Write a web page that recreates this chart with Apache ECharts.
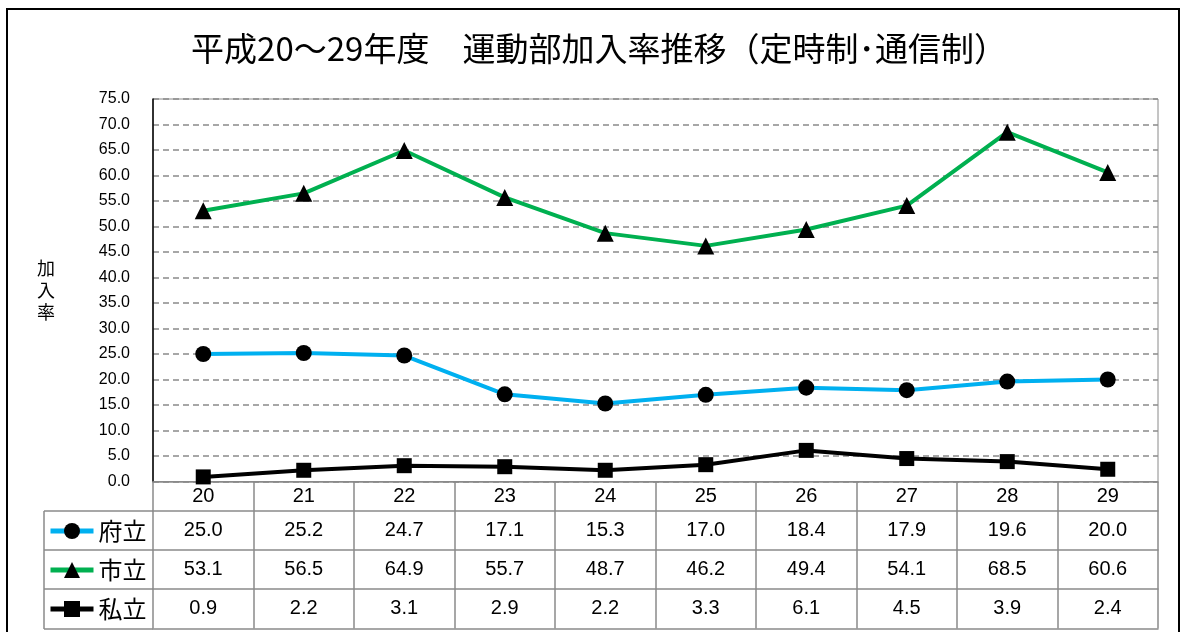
<!DOCTYPE html>
<html><head><meta charset="utf-8">
<script src="https://cdn.jsdelivr.net/npm/echarts@6/dist/echarts.min.js"></script>
<style>html,body{margin:0;padding:0;background:#fff}#c{width:1182px;height:632px}</style>
</head><body><div id="c"></div>
<script>
var titleText = '平成20～29年度　運動部加入率推移（定時制･通信制）';
var years = ['20','21','22','23','24','25','26','27','28','29'];
var seriesNames = ['府立','市立','私立'];
var fuRitsu = [25.0,25.2,24.7,17.1,15.3,17.0,18.4,17.9,19.6,20.0];
var shiRitsu = [53.1,56.5,64.9,55.7,48.7,46.2,49.4,54.1,68.5,60.6];
var shiRitsuPrivate = [0.9,2.2,3.1,2.9,2.2,3.3,6.1,4.5,3.9,2.4];
var yMin = 0, yMax = 75, yStep = 5;
var yName = '加入率';

var rows = [fuRitsu, shiRitsu, shiRitsuPrivate];
var gray = '#8a8a8a';
var numFont = 'Liberation Sans, Arial, sans-serif';
var jpFont = 'Noto Sans CJK JP, sans-serif';

var xAxes = [{
  type: 'category', data: years, position: 'bottom', offset: 0, boundaryGap: true,
  axisLine: {show: true, lineStyle: {color: gray, width: 1.5}},
  axisTick: {show: true, interval: 0, length: 147, lineStyle: {color: gray, width: 1.5}},
  axisLabel: {interval: 0, margin: 5, fontSize: 20, color: '#000', fontFamily: numFont}
}];
var offs = [29, 68, 107];
rows.forEach(function (arr, k) {
  xAxes.push({
    type: 'category', data: years, position: 'bottom', offset: offs[k], boundaryGap: true,
    axisLine: {show: true, lineStyle: {color: gray, width: 1.5}},
    axisTick: {show: false},
    axisLabel: {interval: 0, margin: 10, fontSize: 20, color: '#000', fontFamily: numFont,
      formatter: function (v, i) { return arr[i].toFixed(1); }}
  });
});
xAxes.push({
  type: 'category', data: years, position: 'bottom', offset: 147, boundaryGap: true,
  axisLine: {show: true, lineStyle: {color: gray, width: 1.5}},
  axisTick: {show: false}, axisLabel: {show: false}
});

var chart = echarts.init(document.getElementById('c'), null, {renderer: 'canvas'});
chart.setOption({
  animation: false,
  backgroundColor: '#fff',
  title: {text: titleText, left: 594, textAlign: 'center', top: 27,
    textStyle: {fontSize: 33, fontWeight: 'normal', color: '#000', fontFamily: jpFont}},
  grid: {left: 153, right: 24, top: 99, bottom: 150.5, show: true, borderColor: gray, borderWidth: 1},
  legend: {
    data: seriesNames, orient: 'vertical', left: 48, top: 519, padding: 0,
    itemWidth: 43, itemHeight: 20, itemGap: 15, selectedMode: false,
    lineStyle: {width: 5},
    textStyle: {fontSize: 24, lineHeight: 24, color: '#000', fontFamily: jpFont}
  },
  xAxis: xAxes,
  yAxis: [{
    type: 'value', min: yMin, max: yMax, interval: yStep,
    name: yName.split('').join('\n'), nameLocation: 'middle', nameRotate: 0, nameGap: 98,
    nameTextStyle: {fontSize: 18, lineHeight: 22, color: '#000', fontFamily: jpFont},
    axisLine: {show: true, lineStyle: {color: '#000', width: 1.5}},
    axisTick: {show: false},
    axisLabel: {margin: 23, fontSize: 16, color: '#000', fontFamily: numFont,
      formatter: function (v) { return v.toFixed(1); }},
    splitLine: {show: true, lineStyle: {color: gray, width: 1.5, type: [6, 4]}}
  }],
  series: [
    {name: seriesNames[0], type: 'line', data: fuRitsu, symbol: 'circle', symbolSize: 16,
      lineStyle: {color: '#00B0F0', width: 4}, itemStyle: {color: '#000'}, z: 3},
    {name: seriesNames[1], type: 'line', data: shiRitsu, symbol: 'triangle', symbolSize: 17,
      lineStyle: {color: '#00B050', width: 4}, itemStyle: {color: '#000'}, z: 3},
    {name: seriesNames[2], type: 'line', data: shiRitsuPrivate, symbol: 'rect', symbolSize: 15,
      lineStyle: {color: '#000', width: 4}, itemStyle: {color: '#000'}, z: 3}
  ],
  graphic: [
    {type: 'rect', shape: {x: 7, y: 9, width: 1172, height: 700}, style: {fill: 'none', stroke: '#000', lineWidth: 2}, silent: true},
    {type: 'line', shape: {x1: 44, y1: 511, x2: 44, y2: 629}, style: {stroke: gray, lineWidth: 1.5}},
    {type: 'line', shape: {x1: 44, y1: 511, x2: 153, y2: 511}, style: {stroke: gray, lineWidth: 1.5}},
    {type: 'line', shape: {x1: 44, y1: 550, x2: 153, y2: 550}, style: {stroke: gray, lineWidth: 1.5}},
    {type: 'line', shape: {x1: 44, y1: 589, x2: 153, y2: 589}, style: {stroke: gray, lineWidth: 1.5}},
    {type: 'line', shape: {x1: 44, y1: 629, x2: 153, y2: 629}, style: {stroke: gray, lineWidth: 1.5}}
  ]
});
</script></body></html>
